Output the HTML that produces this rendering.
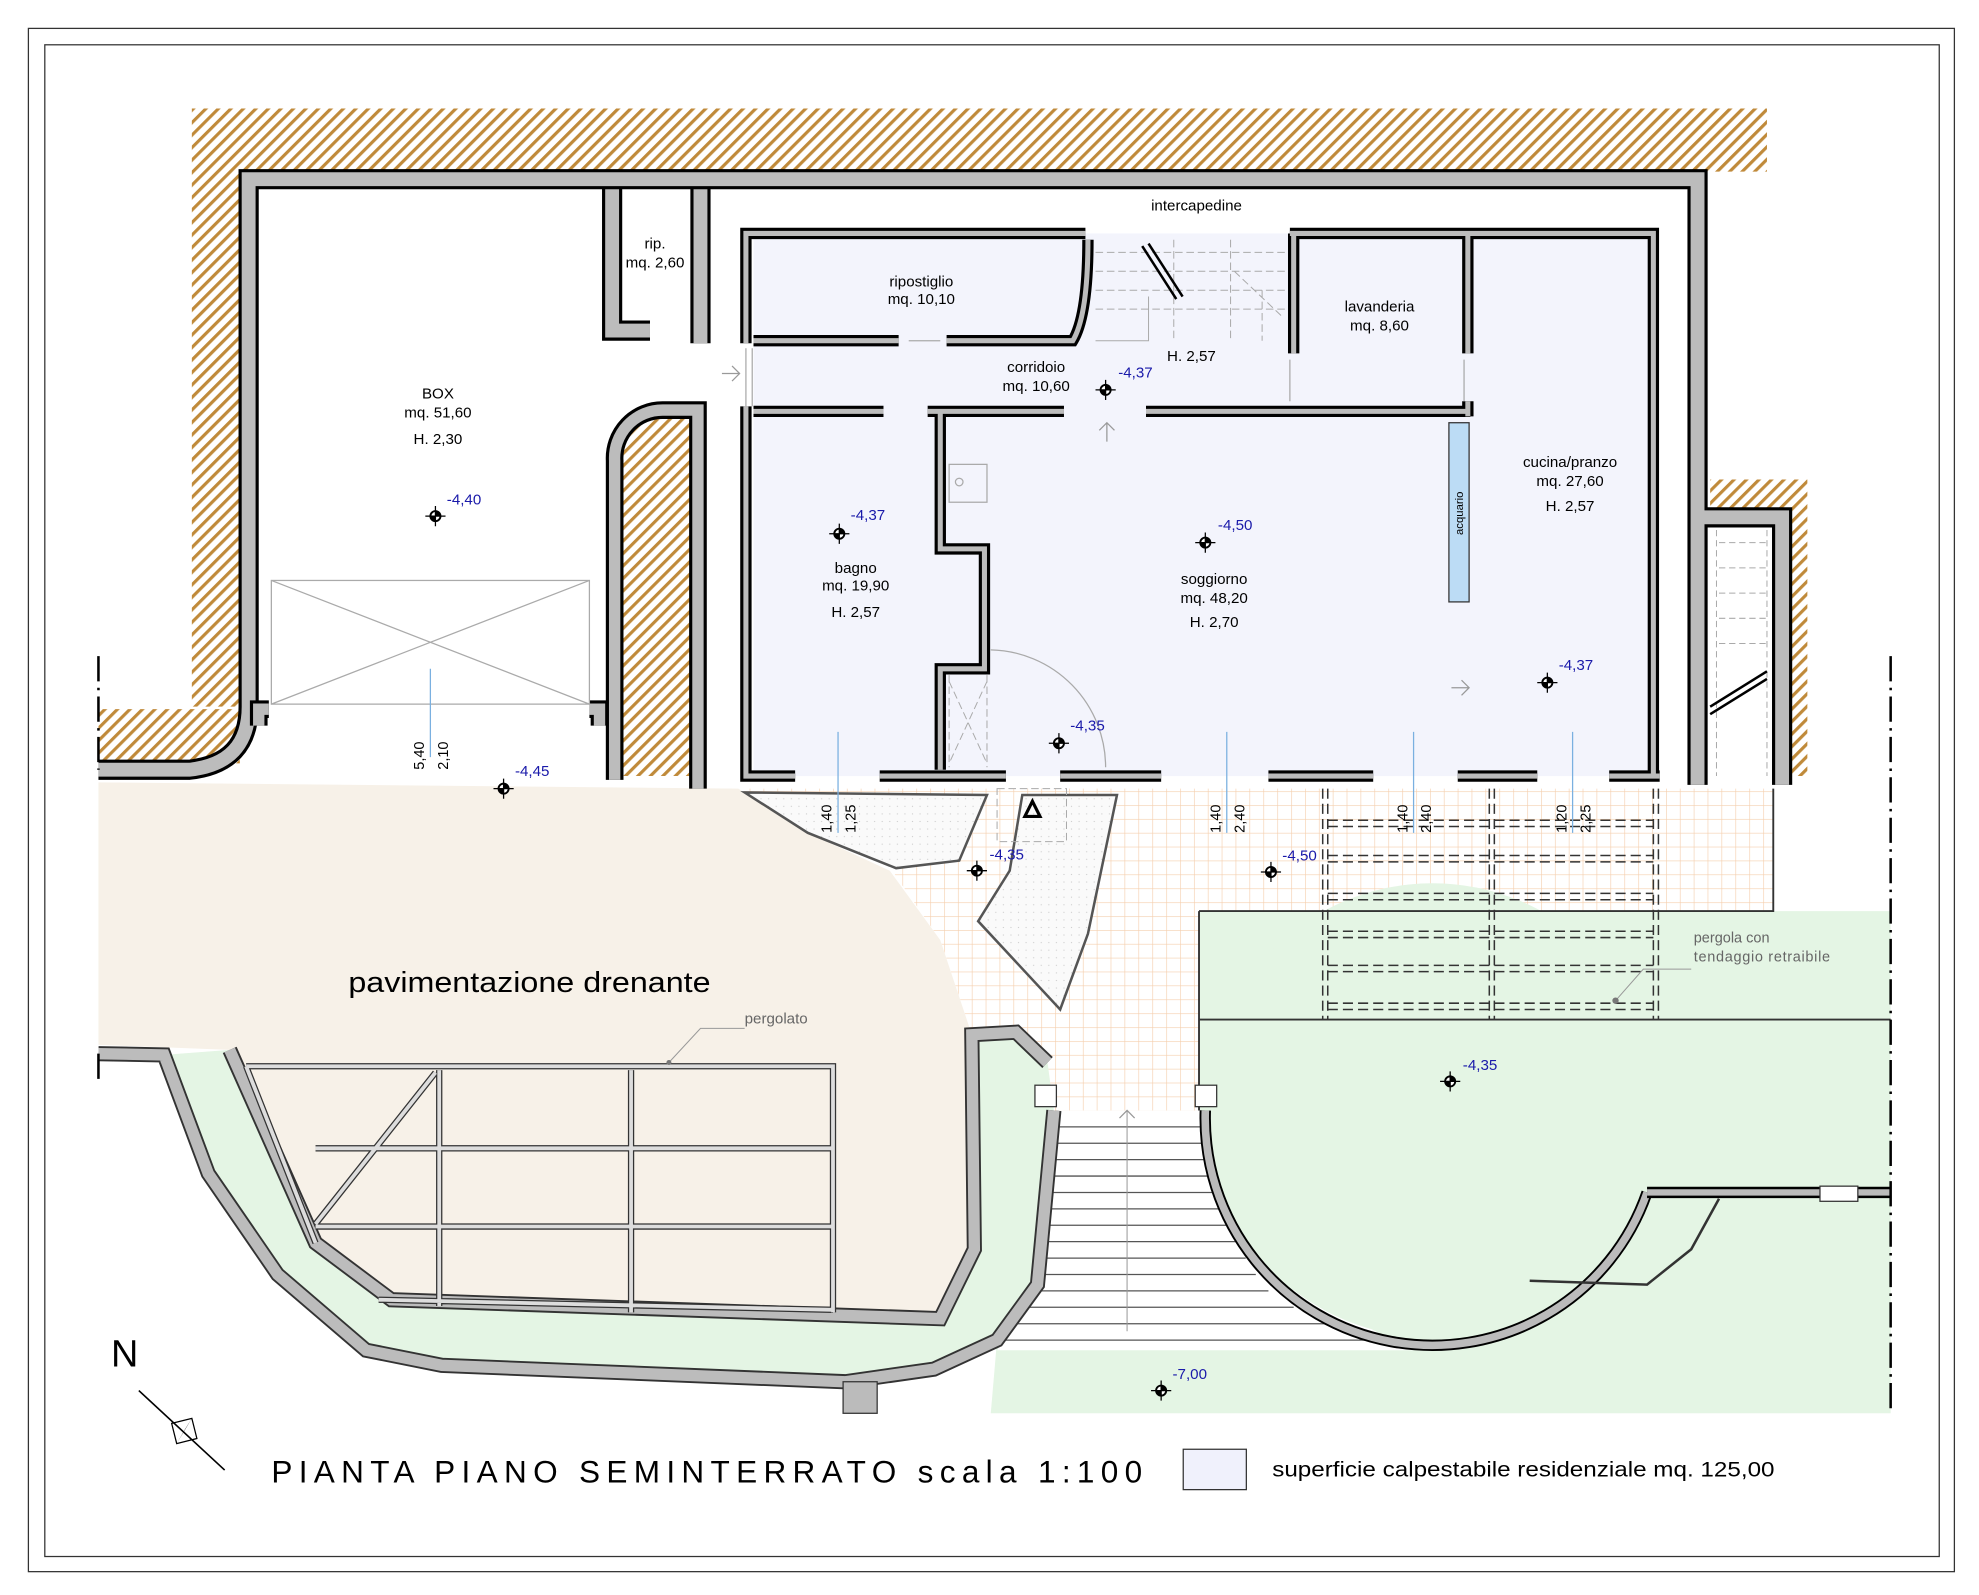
<!DOCTYPE html>
<html><head><meta charset="utf-8"><style>
html,body{margin:0;padding:0;background:#fff}
svg{display:block}
text{font-family:"Liberation Sans",Arial,sans-serif}
</style></head><body>
<svg width="1979" height="1595" viewBox="0 0 1568 1264" preserveAspectRatio="none" xmlns="http://www.w3.org/2000/svg">
<defs>
<pattern id="hat" width="7" height="7" patternUnits="userSpaceOnUse" patternTransform="rotate(45)">
<rect width="7" height="7" fill="#fff"/><rect width="2.5" height="7" fill="#c08a3a"/></pattern>
<pattern id="tile" width="11" height="11" patternUnits="userSpaceOnUse">
<rect width="11" height="11" fill="#fff"/><path d="M0 0H11M0 0V11" stroke="#f5cfae" stroke-width="1"/></pattern>
<pattern id="dots" width="6" height="6" patternUnits="userSpaceOnUse">
<rect width="6" height="6" fill="#fafafa"/><circle cx="3" cy="3" r="0.5" fill="#ccc"/></pattern>
<g id="el"><circle r="4" fill="#fff" stroke="#000" stroke-width="1.5"/><path d="M-8 0H8M0 -8V8" stroke="#000" stroke-width="1"/><path d="M0 -4A4 4 0 0 1 4 0H0ZM0 4A4 4 0 0 1 -4 0H0Z" fill="#000"/></g>
<path id="wo" d="M78 610 L150 610 Q197 605 197 560 L197 142 L1345 142 L1345 622 M1345 410 L1412 410 L1412 622 M485 150 L485 262 L515 262 M555 150 L555 272"/>
<path id="wi" d="M591 272 L591 185 L860 185 M1022 185 L1310 185 L1310 615 M591 322 L591 615 L630 615 M697 615 L797 615 M840 615 L920 615 M1005 615 L1088 615 M1155 615 L1218 615 M1275 615 L1315 615 M597 270 L712 270 M750 270 L850 270 Q862 250 862 190 M597 326 L700 326 M735 326 L843 326 M908 326 L1165 326 M745 326 L745 435 L780 435 L780 530 L745 530 L745 610 M1025 185 L1025 280 M1163 185 L1163 280 M1163 318 L1163 330"/>
<path id="wc" d="M487 618 L487 365 A38 38 0 0 1 525 325 L553 325 L553 625 M205 575 L205 562 L213 562 M467 562 L475 562 L475 575"/>
<path id="ws" d="M78 835 L130 836 L165 930 L220 1010 L290 1070 L350 1082 L670 1095 L740 1085 L790 1062 L822 1018 L835 880 M182 832 L250 985 L310 1030 L745 1045 L772 990 L770 820 L805 818 L830 842"/>
</defs>
<rect x="22.5" y="22.5" width="1526" height="1223" fill="none" stroke="#333" stroke-width="1"/>
<rect x="35.5" y="35.5" width="1501" height="1198" fill="none" stroke="#333" stroke-width="1"/>
<!-- earth hatch -->
<path d="M152 86 H1400 V136 H190 V560 H152 Z" fill="url(#hat)"/>
<path d="M78 562 H190 V605 H78 Z" fill="url(#hat)"/>
<path d="M1355 380 H1432 V615 H1412 V410 H1355 Z" fill="url(#hat)"/>
<path d="M492 615 L492 368 A33 33 0 0 1 525 332 L550 332 L550 615 Z" fill="url(#hat)"/>
<!-- floors -->
<rect x="597" y="185" width="713" height="430" fill="#f3f4fc"/>
<path d="M585 625 H1405 V722 H950 V880 H835 L840 800 L790 715 L745 700 Z" fill="url(#tile)"/>
<path d="M700 680 L760 682 L790 715 L840 800 L835 880 L775 880 L770 820 L745 745 Z" fill="url(#tile)"/>
<path d="M78 620 L585 625 L640 660 L705 690 L745 745 L770 820 L775 990 L745 1045 L310 1030 L250 985 L182 832 L78 828 Z" fill="#f7f1e8"/>
<path d="M590 628 L640 660 L710 688 L760 682 L782 630 Z" fill="url(#dots)" stroke="#555" stroke-width="2"/>
<path d="M810 630 L800 690 L775 730 L840 800 L862 740 L885 630 Z" fill="url(#dots)" stroke="#555" stroke-width="2"/>
<path d="M950 722 H1498 V1120 H785 L790 1062 L822 1018 L835 880 H950 Z" fill="#e4f5e4"/>
<path d="M182 832 L250 985 L310 1030 L745 1045 L772 990 L770 820 L805 818 L830 842 L835 880 L822 1018 L790 1062 L740 1085 L670 1095 L350 1082 L290 1070 L220 1010 L165 930 L130 836 Z" fill="#e4f5e4"/>
<!-- stairs -->
<path d="M835 880 H958 L1000 1010 L1120 1070 H790 L822 1018 Z" fill="#fff"/>
<g stroke="#555" stroke-width="1">
<path d="M835 893H960M834 906H962M833 919H964M832 932H966M831 945H969M830 958H972M829 971H976M828 984H981M826 997H987M825 1010H995M820 1023H1005M812 1036H1025M804 1049H1050M796 1062H1090"/>
</g>
<path d="M893 880 V1055" stroke="#999" stroke-width="0.8"/>
<path d="M887 886 L893 880 L899 886" fill="none" stroke="#999"/>
<circle cx="1135" cy="880" r="180" fill="#e4f5e4"/>
<path d="M955 880 A180 180 0 0 0 1305 945" fill="none" stroke="#000" stroke-width="9"/>
<path d="M955 880 A180 180 0 0 0 1305 945" fill="none" stroke="#bbb" stroke-width="6"/>
<path d="M1305 945 H1498" stroke="#000" stroke-width="9"/><path d="M1305 945 H1498" stroke="#bbb" stroke-width="5"/>
<rect x="1442" y="940" width="30" height="12" fill="#fff" stroke="#333"/>
<path d="M1212 1015 L1305 1018 L1340 990 L1362 950" fill="none" stroke="#333" stroke-width="2"/>
<!-- terraces lines -->
<path d="M950 722 H1405 V625 M950 722 V880 M950 808 H1498" fill="none" stroke="#333" stroke-width="1.5"/>
<rect x="820" y="860" width="17" height="17" fill="#fff" stroke="#333"/>
<rect x="947" y="860" width="17" height="17" fill="#fff" stroke="#333"/>
<!-- pergola dashed -->
<g fill="none" stroke="#333" stroke-width="1.2" stroke-dasharray="8,4">
<path d="M1048 625V808M1052 625V808M1180 625V808M1184 625V808M1310 625V808M1314 625V808"/>
<path d="M1052 650H1310M1052 655H1310M1052 678H1310M1052 683H1310M1052 708H1310M1052 713H1310M1052 738H1310M1052 743H1310M1052 765H1310M1052 770H1310M1052 795H1310M1052 800H1310"/>
</g>
<path d="M1280 793 L1302 768 H1340" fill="none" stroke="#999" stroke-width="0.8"/><circle cx="1280" cy="793" r="2.5" fill="#777"/>
<text x="1342" y="747" font-size="11.5" fill="#666">pergola con</text>
<text x="1342" y="762" font-size="11.5" fill="#666" textLength="108">tendaggio retraibile</text>
<!-- walls -->
<g fill="none" stroke-linejoin="miter">
<use href="#wo" stroke="#000" stroke-width="16"/><use href="#wo" stroke="#bcbcbc" stroke-width="11"/>
<use href="#wi" stroke="#000" stroke-width="9"/><use href="#wi" stroke="#bcbcbc" stroke-width="4"/>
<use href="#wc" stroke="#000" stroke-width="14"/><use href="#wc" stroke="#bcbcbc" stroke-width="9"/>
<use href="#ws" stroke="#333" stroke-width="12"/><use href="#ws" stroke="#bcbcbc" stroke-width="9"/>
</g>
<rect x="668" y="1095" width="27" height="25" fill="#bbb" stroke="#333"/>
<!-- pergolato -->
<g fill="none" stroke="#333" stroke-width="5"><path d="M195 845H660V1040M195 845L250 985M250 910H660M250 972H660M348 848V1035M500 848V1040M345 850L250 970M300 1030L660 1038"/></g>
<g fill="none" stroke="#ddd" stroke-width="3"><path d="M195 845H660V1040M195 845L250 985M250 910H660M250 972H660M348 848V1035M500 848V1040M345 850L250 970M300 1030L660 1038"/></g>
<path d="M530 842 L555 815 H590" fill="none" stroke="#999" stroke-width="0.8"/><circle cx="530" cy="842" r="2" fill="#777"/>
<text x="590" y="811" font-size="12" fill="#666">pergolato</text>
<text x="276" y="786" font-size="23" textLength="287" lengthAdjust="spacingAndGlyphs">pavimentazione drenante</text>
<!-- box door -->
<g stroke="#aaa" stroke-width="1" fill="none"><rect x="215" y="460" width="252" height="98"/><path d="M215 460L467 558M467 460L215 558"/></g>
<!-- stair right -->
<g stroke="#aaa" stroke-width="0.8" fill="none" stroke-dasharray="5,3"><path d="M1360 420V615M1400 420V615"/><path d="M1362 430H1400M1362 450H1400M1362 470H1400M1362 490H1400M1362 510H1400"/></g>
<path d="M1355 560 L1400 532 M1355 566 L1400 538" stroke="#000" stroke-width="2"/>
<!-- interior stair -->
<g stroke="#aaa" stroke-width="0.8" fill="none" stroke-dasharray="6,3"><path d="M868 200H1018M868 215H1018M868 230H1018M868 245H1018M930 190V270M975 190V270M978 215L1015 250M1000 230V270"/></g>
<path d="M905 195 L932 237 M910 193 L937 235" stroke="#000" stroke-width="2"/>
<path d="M868 270H910V235" fill="none" stroke="#aaa" stroke-width="0.8"/>
<!-- door swings -->
<path d="M785 515 A93 93 0 0 1 876 608" fill="none" stroke="#aaa"/>
<g stroke="#aaa" stroke-width="0.8" fill="none" stroke-dasharray="6,3"><path d="M752 535V608M782 535V608M752 540L782 605M782 540L752 605"/><rect x="790" y="625" width="55" height="42"/></g>
<rect x="752" y="368" width="30" height="30" fill="none" stroke="#aaa"/><circle cx="760" cy="382" r="3" fill="none" stroke="#aaa"/>
<path d="M877 335V350M871 341L877 335L883 341M1150 545H1164M1158 539L1164 545L1158 551M572 296H586M580 290L586 296L580 302" fill="none" stroke="#999"/>
<path d="M591 276V322M596 276V322" stroke="#aaa"/>
<path d="M720 270H745M1022 285V318M1160 285V318" stroke="#aaa"/>
<path d="M812 647 L818 635 L824 647 Z" fill="none" stroke="#000" stroke-width="2.5"/>
<rect x="1148" y="335" width="16" height="142" fill="#bcdcf5" stroke="#333"/>
<text font-size="9" transform="translate(1159,424) rotate(-90)">acquario</text>
<!-- dimension ticks -->
<g stroke="#7ab0e0" stroke-width="1"><path d="M341 530V600M664 580V660M972 580V660M1120 580V660M1246 580V660"/></g>
<g font-size="11.5">
<text transform="translate(336,610) rotate(-90)">5,40</text><text transform="translate(355,610) rotate(-90)">2,10</text>
<text transform="translate(659,660) rotate(-90)">1,40</text><text transform="translate(678,660) rotate(-90)">1,25</text>
<text transform="translate(967,660) rotate(-90)">1,40</text><text transform="translate(986,660) rotate(-90)">2,40</text>
<text transform="translate(1115,660) rotate(-90)">1,40</text><text transform="translate(1134,660) rotate(-90)">2,40</text>
<text transform="translate(1241,660) rotate(-90)">1,20</text><text transform="translate(1260,660) rotate(-90)">2,25</text>
</g>
<!-- border dashdot -->
<g stroke="#000" stroke-width="2" stroke-dasharray="20,5,2,5" fill="none"><path d="M78 520V610M78 835V860M1498 520V1120"/></g>
<!-- labels -->
<g font-size="12" text-anchor="middle">
<text x="948" y="167">intercapedine</text>
<text x="519" y="197">rip.</text><text x="519" y="212">mq. 2,60</text>
<text x="730" y="227">ripostiglio</text><text x="730" y="241">mq. 10,10</text>
<text x="821" y="295">corridoio</text><text x="821" y="310">mq. 10,60</text>
<text x="944" y="286">H. 2,57</text>
<text x="1093" y="247">lavanderia</text><text x="1093" y="262">mq. 8,60</text>
<text x="347" y="316">BOX</text><text x="347" y="331">mq. 51,60</text><text x="347" y="352">H. 2,30</text>
<text x="678" y="454">bagno</text><text x="678" y="468">mq. 19,90</text><text x="678" y="489">H. 2,57</text>
<text x="962" y="463">soggiorno</text><text x="962" y="478">mq. 48,20</text><text x="962" y="497">H. 2,70</text>
<text x="1244" y="370">cucina/pranzo</text><text x="1244" y="385">mq. 27,60</text><text x="1244" y="405">H. 2,57</text>
</g>
<g fill="#1a1aaa" font-size="12">
<text x="354" y="400">-4,40</text><text x="886" y="299">-4,37</text><text x="674" y="412">-4,37</text>
<text x="965" y="420">-4,50</text><text x="1235" y="531">-4,37</text><text x="848" y="579">-4,35</text>
<text x="408" y="615">-4,45</text><text x="784" y="681">-4,35</text><text x="1016" y="682">-4,50</text>
<text x="1159" y="848">-4,35</text><text x="929" y="1093">-7,00</text>
</g>
<use href="#el" x="345" y="409"/><use href="#el" x="876" y="309"/><use href="#el" x="665" y="423"/>
<use href="#el" x="955" y="430"/><use href="#el" x="1226" y="541"/><use href="#el" x="839" y="589"/>
<use href="#el" x="399" y="625"/><use href="#el" x="774" y="690"/><use href="#el" x="1007" y="691"/>
<use href="#el" x="1149" y="857"/><use href="#el" x="920" y="1102"/>
<!-- compass -->
<text x="88" y="1083" font-size="30">N</text>
<path d="M110 1102 L178 1165" stroke="#000" stroke-width="1.3"/>
<path d="M136 1128 L152 1124 L156 1140 L140 1144 Z" fill="none" stroke="#000" stroke-width="1"/>
<path d="M152 1124 L140 1144 L147 1132 Z" fill="#000"/>
<!-- title -->
<text x="215" y="1175" font-size="25" textLength="690" lengthAdjust="spacing">PIANTA PIANO SEMINTERRATO scala 1:100</text>
<rect x="937.5" y="1148.5" width="50" height="32" fill="#f0f1fc" stroke="#333"/>
<text x="1008" y="1170" font-size="17" textLength="398" lengthAdjust="spacingAndGlyphs">superficie calpestabile residenziale mq. 125,00</text>
</svg>
</body></html>
